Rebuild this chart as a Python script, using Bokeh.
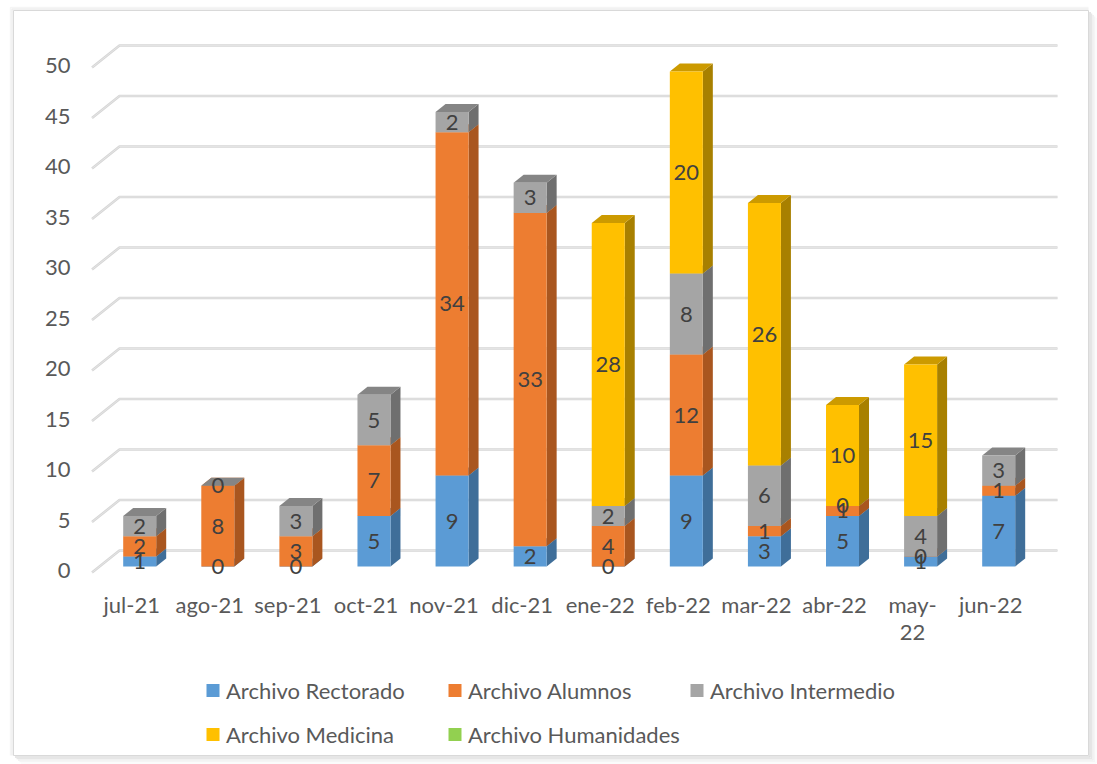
from bokeh.plotting import figure
from bokeh.models import Range1d
from bokeh.core.properties import value
from bokeh.embed import file_html
from bokeh.resources import INLINE

# ---------------- data ----------------
months = ["jul-21", "ago-21", "sep-21", "oct-21", "nov-21", "dic-21",
          "ene-22", "feb-22", "mar-22", "abr-22", "may-22", "jun-22"]
month_tick_labels = ["jul-21", "ago-21", "sep-21", "oct-21", "nov-21", "dic-21",
                     "ene-22", "feb-22", "mar-22", "abr-22", "may-\n22", "jun-22"]
rectorado = [1, 0, 0, 5, 9, 2, 0, 9, 3, 5, 1, 7]
alumnos = [2, 8, 3, 7, 34, 33, 4, 12, 1, 1, 0, 1]
intermedio = [2, 0, 3, 5, 2, 3, 2, 8, 6, 0, 4, 3]
medicina = [None, None, None, None, None, None, 28, 20, 26, 10, 15, None]
humanidades = [None] * 12
series_names = ["Archivo Rectorado", "Archivo Alumnos", "Archivo Intermedio",
                "Archivo Medicina", "Archivo Humanidades"]
y_ticks = [0, 5, 10, 15, 20, 25, 30, 35, 40, 45, 50]

# ---------------- style ----------------
front_colors = ["#5B9BD5", "#ED7D31", "#A5A5A5", "#FFC000", "#92D050"]
side_colors = ["#3F6E99", "#A9561F", "#6F6F6F", "#A88000", "#67943A"]
top_colors = ["#4A80B0", "#C96A28", "#858585", "#CC9A00", "#7DB446"]
FONT = "Lato"
FS = "22px"
AXIS_COLOR = "#595959"
LABEL_COLOR = "#404040"
GRID_COLOR = "#D6D6D6"

W, H = 1097, 764
MARGIN = 0
# pixel geometry of the reference (page pixels)
X0, SX = 139.2, 78.09      # centre of first category, px per category
Y0, SY = 566.0, 10.1       # baseline, px per unit


def rx(px):
    return (px - X0) / SX


def ry(py):
    return (Y0 - py) / SY


BAR_W = 33 / SX
DX = 10 / SX
DY = 8 / SY

p = figure(width=W, height=H, output_backend="svg", toolbar_location=None,
           x_axis_location=None, y_axis_location=None,
           x_range=Range1d(rx(MARGIN), rx(MARGIN + W)),
           y_range=Range1d(ry(MARGIN + H), ry(MARGIN)),
           min_border=0, min_border_left=0, min_border_right=0,
           min_border_top=0, min_border_bottom=0)
p.outline_line_color = None
p.background_fill_color = "white"
p.border_fill_color = "white"
p.grid.visible = False

# chart border with soft shadow
p.multi_line(xs=[[rx(13), rx(1088), rx(1088), rx(13), rx(13)]],
             ys=[[ry(10), ry(10), ry(755), ry(755), ry(10)]],
             line_color="#D9D9D9", line_width=1)
for off, col in [(1.5, "#DEDEDE"), (3.0, "#E6E6E6"), (4.5, "#EEEEEE"), (6.0, "#F5F5F5"), (7.5, "#FAFAFA")]:
    p.multi_line(xs=[[rx(13 + off), rx(1088 + off), rx(1088 + off)]],
                 ys=[[ry(755 + off), ry(755 + off), ry(10 + off)]],
                 line_color=col, line_width=1.6)
for off, col in [(1.5, "#EDEDED"), (3.0, "#F5F5F5")]:
    p.multi_line(xs=[[rx(13 - off), rx(13 - off), rx(1088)]],
                 ys=[[ry(755), ry(10 - off), ry(10 - off)]],
                 line_color=col, line_width=1.5)

# 3D gridlines (back wall + side wall)
g_xs, g_ys = [], []
back_off = 16 / SY
front_off = -6 / SY
for v in y_ticks:
    g_xs.append([rx(91.5), rx(119), rx(1057)])
    g_ys.append([v + front_off, v + back_off, v + back_off])
p.multi_line(xs=g_xs, ys=g_ys, line_color=GRID_COLOR, line_width=2.6)
p.multi_line(xs=g_xs, ys=g_ys, line_color="#E4E4E4", line_width=1)

# y tick labels
p.text(x=[rx(70)] * len(y_ticks), y=[v - 4 / SY for v in y_ticks],
       text=[str(v) for v in y_ticks], text_align="right", text_baseline="middle",
       text_font=value(FONT), text_font_size=FS, text_color=AXIS_COLOR)

# x category labels (with wrapped lines)
lx, ly, lt = [], [], []
for i, lab in enumerate(month_tick_labels):
    for j, line in enumerate(lab.split("\n")):
        lx.append(i - 8 / SX)
        ly.append(ry(604 + 28 * j))
        lt.append(line)
p.text(x=lx, y=ly, text=lt, text_align="center", text_baseline="middle",
       text_font=value(FONT), text_font_size=FS, text_color=AXIS_COLOR)

# 3D stacked bars
all_series = [rectorado, alumnos, intermedio, medicina, humanidades]
base = [0.0] * len(months)
lab_x, lab_y, lab_t = [], [], []
for s, vals in enumerate(all_series):
    fl, fr, fb, ft = [], [], [], []
    sxs, sys_, txs, tys = [], [], [], []
    for i, v in enumerate(vals):
        if v is None:
            continue
        b = base[i]
        t = b + v
        x0 = i - BAR_W / 2
        x1 = i + BAR_W / 2
        fl.append(x0); fr.append(x1); fb.append(b); ft.append(t)
        sxs.append([x1, x1 + DX, x1 + DX, x1])
        sys_.append([b, b + DY, t + DY, t])
        txs.append([x0, x1, x1 + DX, x0 + DX])
        tys.append([t, t, t + DY, t + DY])
        lab_x.append(i); lab_y.append(b + v / 2); lab_t.append(str(v))
        base[i] = t
    if fl:
        p.patches(xs=sxs, ys=sys_, fill_color=side_colors[s], line_color=None)
        p.patches(xs=txs, ys=tys, fill_color=top_colors[s], line_color=None)
        p.quad(left=fl, right=fr, bottom=fb, top=ft, fill_color=front_colors[s],
               line_color=None)

# data labels
p.text(x=lab_x, y=lab_y, text=lab_t, text_align="center", text_baseline="middle",
       text_font=value(FONT), text_font_size=FS, text_color=LABEL_COLOR)

# legend (two rows, three columns)
leg_cols = [212.5, 454.5, 696.5]
leg_rows = [690, 734]
sq_x, sq_y, sq_c, tx, ty = [], [], [], [], []
for k, name in enumerate(series_names):
    r, c = divmod(k, 3)
    sq_x.append(rx(leg_cols[c])); sq_y.append(ry(leg_rows[r])); sq_c.append(front_colors[k])
    tx.append(rx(leg_cols[c] + 13)); ty.append(ry(leg_rows[r]))
p.scatter(x=sq_x, y=sq_y, marker="square", size=13, fill_color=sq_c, line_color=None)
p.text(x=tx, y=ty, text=series_names, text_align="left", text_baseline="middle",
       text_font=value(FONT), text_font_size=FS, text_color=AXIS_COLOR)

open("out.html", "w").write(file_html(p, INLINE))
